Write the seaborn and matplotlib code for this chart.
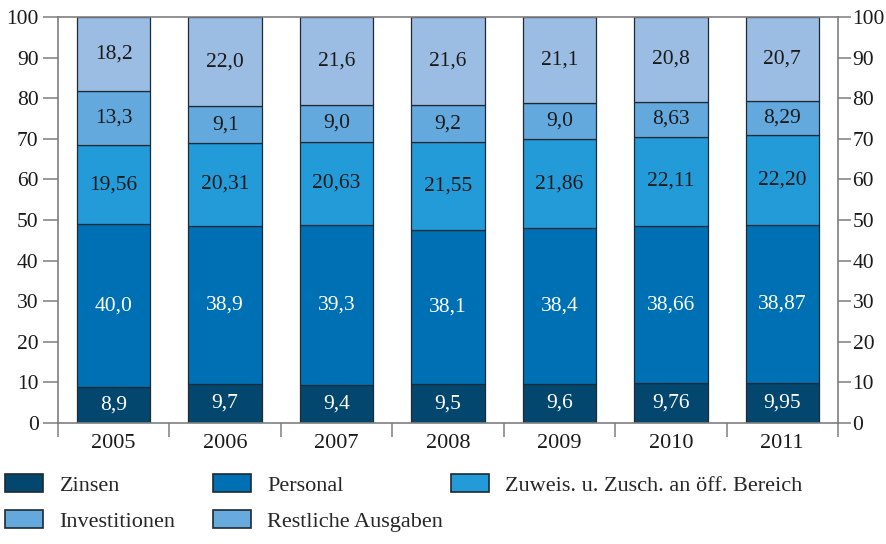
import numpy as np
import pandas as pd
import matplotlib
matplotlib.use("Agg")
import matplotlib.pyplot as plt
from matplotlib.patches import Patch
from matplotlib.ticker import FixedLocator
import seaborn as sns

years = ["2005", "2006", "2007", "2008", "2009", "2010", "2011"]
series = ["Zinsen", "Personal", "Zuweis. u. Zusch. an öff. Bereich",
          "Investitionen", "Restliche Ausgaben"]

zinsen = ["8,9", "9,7", "9,4", "9,5", "9,6", "9,76", "9,95"]
personal = ["40,0", "38,9", "39,3", "38,1", "38,4", "38,66", "38,87"]
zuweis = ["19,56", "20,31", "20,63", "21,55", "21,86", "22,11", "22,20"]
investitionen = ["13,3", "9,1", "9,0", "9,2", "9,0", "8,63", "8,29"]
restliche = ["18,2", "22,0", "21,6", "21,6", "21,1", "20,8", "20,7"]

bar_colors = ["#03476f", "#0070b5", "#229bd8", "#63a9de", "#9bbce3"]
legend_colors = ["#03476f", "#0070b5", "#229bd8", "#63a9de", "#66aade"]
label_colors = ["white", "white", "#1a1a1a", "#1a1a1a", "#1a1a1a"]

sns.set_style("white")
plt.rcParams["font.family"] = ["Liberation Serif", "DejaVu Serif"]

labels = [zinsen, personal, zuweis, investitionen, restliche]
df = pd.DataFrame({s: [float(v.replace(",", ".")) for v in lab]
                   for s, lab in zip(series, labels)})
df["Jahr"] = years

fig = plt.figure(figsize=(8.87, 5.44), dpi=100)
ax = fig.add_axes([58 / 887, 1 - 423 / 544, 780 / 887, 406 / 544])

bottom = np.zeros(len(years))
for s, lab, c, tc in zip(series, labels, bar_colors, label_colors):
    sns.barplot(data=df, x="Jahr", y=s, bottom=bottom, color=c, saturation=1,
                width=0.66, edgecolor="#1c2a33", linewidth=0.9, ax=ax)
    ax.bar_label(ax.containers[-1], labels=lab, label_type="center",
                 color=tc, fontsize=15.5)
    bottom = bottom + df[s].values

ax.set_xlim(-0.5, len(years) - 0.5)
ax.set_ylim(0, 100)
ax.set_xlabel("")
ax.set_ylabel("")
ax.set_yticks(range(0, 101, 10))

gray = "#7f7f7f"
for sp in ax.spines.values():
    sp.set_visible(True)
    sp.set_color(gray)
    sp.set_linewidth(1.2)

ax.tick_params(axis="y", which="major", left=True, right=False,
               labelleft=True, labelright=False, length=11, width=1.1,
               color=gray, pad=3, labelsize=15.5, labelcolor="#1a1a1a")
ax.tick_params(axis="x", which="major", length=0, pad=8,
               labelsize=16, labelcolor="#1a1a1a")
ax.xaxis.set_minor_locator(FixedLocator(np.arange(-0.5, len(years), 1.0)))
ax.tick_params(axis="x", which="minor", bottom=True, length=10, width=1.1,
               color=gray)

# right-hand scale, same values
ax2 = ax.twinx()
ax2.set_ylim(ax.get_ylim())
ax2.set_yticks(range(0, 101, 10))
ax2.grid(False)
for sp in ax2.spines.values():
    sp.set_visible(False)
ax2.tick_params(axis="y", right=True, labelright=True, length=9, width=1.1,
                color=gray, pad=1.5, labelsize=15.5, labelcolor="#1a1a1a")

def add_legend(names, colors, x):
    handles = [Patch(facecolor=c, edgecolor="#1c2a33", linewidth=1.2,
                     label=n) for n, c in zip(names, colors)]
    leg = fig.legend(handles=handles, loc="upper left",
                     bbox_to_anchor=(x, 1 - 474 / 544), frameon=False,
                     fontsize=16, handlelength=1.7, handleheight=0.85,
                     handletextpad=0.75, labelspacing=0.65,
                     borderpad=0, borderaxespad=0)
    return leg

add_legend([series[0], series[3]], [legend_colors[0], legend_colors[3]], 5 / 887)
add_legend([series[1], series[4]], [legend_colors[1], legend_colors[4]], 213 / 887)
add_legend([series[2]], [legend_colors[2]], 451 / 887)

fig.savefig("out.png", dpi=100)
